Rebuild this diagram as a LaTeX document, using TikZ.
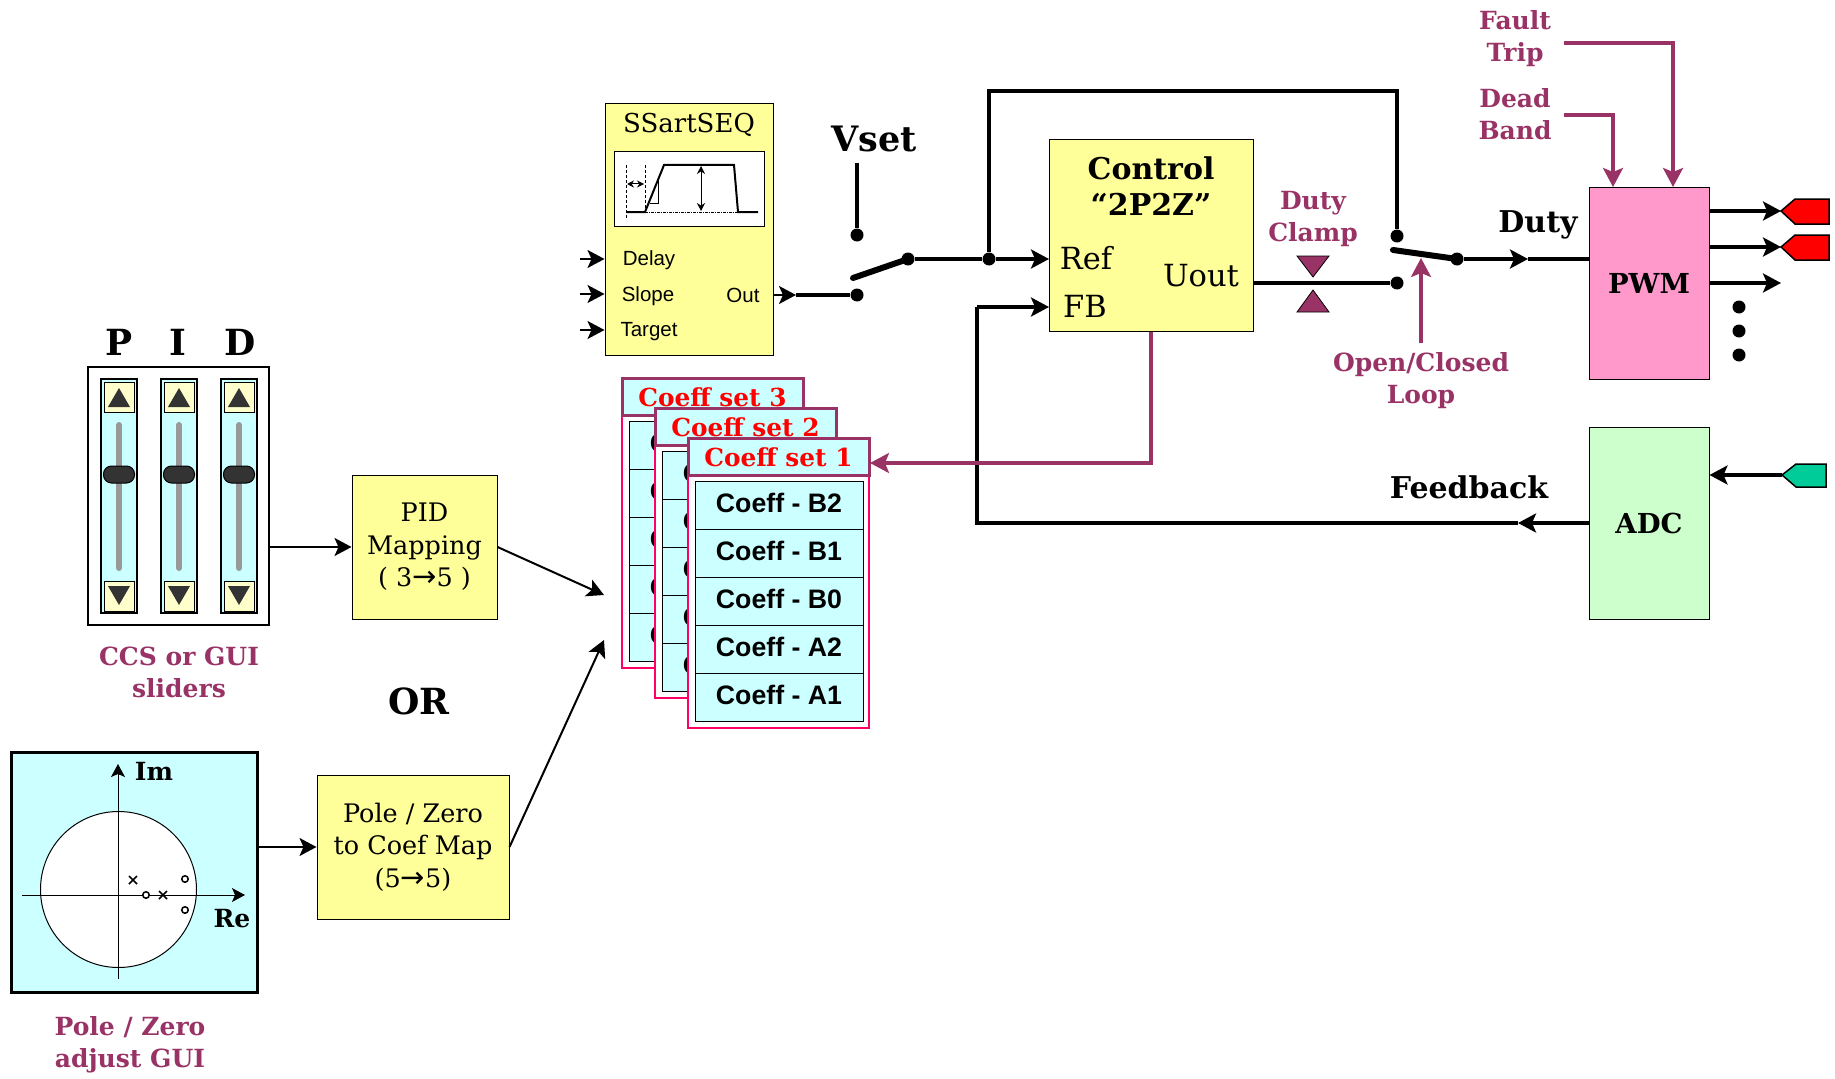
\documentclass[tikz,border=0pt]{standalone}
\usepackage{fontspec}
\setmainfont{DejaVu Serif}
\newfontfamily\sansf{Liberation Sans}
\newfontfamily\arrowf{DejaVu Sans}
\usepackage{xcolor}
\usetikzlibrary{arrows.meta,shapes.misc}
\definecolor{plum}{HTML}{993366}
\definecolor{butter}{HTML}{FFFF99}
\definecolor{cream}{HTML}{FFFFCC}
\definecolor{ice}{HTML}{CCFFFF}
\definecolor{rose}{HTML}{FF99CC}
\definecolor{mint}{HTML}{CCFFCC}
\definecolor{jade}{HTML}{00CC99}
\definecolor{hotpink}{HTML}{FF0066}
\definecolor{dark}{HTML}{333333}
\newcommand{\fsz}[2]{\fontsize{#1}{#2}\selectfont}
\newcommand{\maparrow}{{\arrowf\fsz{29}{32.5}→}}
\begin{document}
\begin{tikzpicture}[x=1pt,y=-1pt,
box/.style={draw=black,line width=1pt,fill=butter,align=center,inner sep=0pt},
map/.style={box,font=\fsz{25.5}{32.5}},
head/.style={font=\bfseries\fsz{30}{36},align=center,inner sep=0pt},
note/.style={font=\bfseries\fsz{25}{32},text=plum,align=center,inner sep=0pt},
pin/.style={font=\sansf\fsz{20.5}{24},inner sep=0pt},
port/.style={font=\fsz{30.5}{32},inner sep=0pt},
dot/.style={circle,fill=black,inner sep=0pt,minimum size=13pt},
arr/.style={-{Stealth[length=18pt,width=19pt,inset=4pt]},line width=3.2pt},
thin arr/.style={-{Stealth[length=17pt,width=18pt,inset=4pt]},line width=2pt},
link/.style={line width=3.2pt},
parr/.style={-{Stealth[length=19pt,width=20pt,inset=4pt]},line width=3.2pt,draw=plum},
blade/.style={line width=6pt,line cap=round},
tag/.style={draw=black,line width=1.5pt,line join=miter},
zeromark/.style={circle,draw=black,line width=1.5pt,fill=white,inner sep=0pt,minimum size=6.5pt},
polemark/.style={cross out,draw=black,line width=1.5pt,inner sep=0pt,minimum size=6.5pt}]
\useasboundingbox (0,0) rectangle (1835,1078);

% sequencer block
\node[box,minimum width=168pt,minimum height=252pt] (seq) at (689,229.5) {};
\node[font=\fsz{26}{30},inner sep=0pt] (seqname) at (689,125) {SSartSEQ};
\node[draw=black,line width=1pt,fill=white,minimum width=150pt,minimum height=74pt,inner sep=0pt] (scope) at (689,189) {};
\draw[line width=1pt,densely dashed] (626,165)--(626,219) (645,165)--(645,212);
\draw[line width=1pt,densely dashdotted] (645,212)--(738,212);
\draw[line width=1pt] (650,203)--(658,203)--(658,180);
\draw[line width=2pt] (626,212)--(645,212)--(664,165)--(734,165)--(738,212)--(758,212);
\draw[{Stealth[length=7pt,width=7pt]}-{Stealth[length=7pt,width=7pt]},line width=1pt] (627,184)--(644,184);
\draw[{Stealth[length=8pt,width=8pt]}-{Stealth[length=8pt,width=8pt]},line width=1pt] (701,166)--(701,211);
\node[pin] (delay) at (649,260) {Delay};
\node[pin] (slope) at (648,296) {Slope};
\node[pin] (target) at (649,332) {Target};
\node[pin] (out) at (743,295) {Out};
\coordinate (inA) at (580,259);\coordinate (inB) at (580,294);\coordinate (inC) at (580,330);
\draw[thin arr] (inA)--(inA-|seq.west);\draw[thin arr] (inB)--(inB-|seq.west);\draw[thin arr] (inC)--(inC-|seq.west);

% input switch
\node[head,font=\bfseries\fsz{35}{40}] (vset) at (874,139) {Vset};
\node[dot] (swtop) at (857,235) {};
\node[dot] (swlow) at (857,295) {};
\node[dot] (swout) at (908,259) {};
\node[dot] (junc) at (989,259) {};
\coordinate (vsetend) at (857,163);
\coordinate (seqout) at (773,295);
\coordinate (seqtip) at (796,295);
\draw[link] (vsetend)--(swtop);
\draw[thin arr] (seqout)--(seqtip);
\draw[link] (seqtip)--(swlow);
\draw[blade] (853,278)--(swout.center);
\draw[link] (swout)--(junc);

% control block
\node[box,minimum width=204pt,minimum height=192pt] (ctrl) at (1151,235.5) {};
\node[head] (ctrlname) at (1151,186) {Control\\``2P2Z''};
\node[port] (ref) at (1086,258) {Ref};
\node[port] (fb) at (1085,306) {FB};
\node[port] (uout) at (1201,276) {Uout};
\coordinate (refin) at (1049,259);
\coordinate (fbin) at (1049,307);
\draw[arr] (junc)--(refin);

% clamp and loop switch
\node[note] (clamp) at (1313,218.5) {Duty\\Clamp};
\draw[fill=plum,line width=.8pt] (1297,256)--(1329,256)--(1313,277)--cycle;
\draw[fill=plum,line width=.8pt] (1297,312)--(1329,312)--(1313,290)--cycle;
\node[dot] (looptop) at (1397,236) {};
\node[dot] (looplow) at (1397,283) {};
\node[dot] (loopout) at (1457,259) {};
\coordinate (uoutend) at (1253,283);
\coordinate (bypassA) at (989,91);
\coordinate (bypassB) at (1397,91);
\draw[link] (uoutend)--(looplow);
\draw[link] (junc)--(bypassA)--(bypassB)--(looptop);
\draw[blade] (1393,250)--(loopout.center);
\node[note] (openloop) at (1421,381) {Open/Closed\\Loop};
\coordinate (loopnote) at (1421,343);
\coordinate (loopnotetip) at (1421,258);
\draw[parr] (loopnote)--(loopnotetip);

% PWM block
\node[box,fill=rose,minimum width=120pt,minimum height=192pt,font=\bfseries\fsz{27.5}{30}] (pwm) at (1649,283.5) {PWM};
\node[head] (duty) at (1538,225) {Duty};
\coordinate (dutytip) at (1528,259);
\draw[arr] (loopout)--(dutytip);
\draw[link] (dutytip)--(dutytip-|pwm.west);
\node[note] (fault) at (1515,38.5) {Fault\\Trip};
\node[note] (dead) at (1515,114) {Dead\\Band};
\coordinate (faultend) at (1564,43);\coordinate (faultcrn) at (1673,43);
\coordinate (deadend) at (1564,115);\coordinate (deadcrn) at (1613,115);
\draw[parr] (faultend)--(faultcrn)--(faultcrn|-pwm.north);
\draw[parr] (deadend)--(deadcrn)--(deadcrn|-pwm.north);
\coordinate (gateA) at (1781,211);\coordinate (gateB) at (1781,247);\coordinate (gateC) at (1781,283);
\draw[arr] (gateA-|pwm.east)--(gateA);\draw[arr] (gateB-|pwm.east)--(gateB);\draw[arr] (gateC-|pwm.east)--(gateC);
\draw[tag,fill=red] (gateA)--++(14,-12)--++(34,0)--++(0,25)--++(-34,0)--cycle;
\draw[tag,fill=red] (gateB)--++(14,-12)--++(34,0)--++(0,25)--++(-34,0)--cycle;
\foreach \i/\gy in {1/307,2/331,3/355}
  \node[dot] (more\i) at (1739,\gy) {};

% ADC block
\node[box,fill=mint,minimum width=120pt,minimum height=192pt,font=\bfseries\fsz{27.5}{30}] (adc) at (1649,523) {ADC};
\node[head] (feedback) at (1469,487) {Feedback};
\coordinate (sense) at (1782,475);
\coordinate (fbtip) at (1518,523);
\coordinate (fbcrnA) at (977,523);
\coordinate (fbcrnB) at (977,307);
\draw[tag,fill=jade] (sense)--++(14,-11)--++(30,0)--++(0,23)--++(-30,0)--cycle;
\draw[arr] (sense)--(sense-|adc.east);
\draw[arr] (adc.west)--(fbtip);
\draw[link] (fbtip)--(fbcrnA)--(fbcrnB);
\draw[arr] (fbcrnB)--(fbin);

% coefficient sets
\foreach \s/\dx/\dy in {3/-66/-60,2/-33/-30,1/0/0}{
\begin{scope}[shift={(\dx,\dy)}]
\node[draw=hotpink,line width=1.5pt,fill=white,minimum width=181pt,minimum height=289pt,inner sep=0pt] (page\s) at (778.5,583.5) {};
\foreach \lab [count=\i] in {B2,B1,B0,A2,A1}
  \node[draw=black,line width=1pt,fill=ice,minimum width=168pt,minimum height=48pt,inner sep=0pt,text depth=4pt,font=\sansf\bfseries\fsz{26.7}{30}] (row\s\i) at (779,{505+48*(\i-1)}) {Coeff - \lab};
\node[draw=plum,line width=3pt,fill=ice,minimum width=181pt,minimum height=37pt,inner sep=0pt,text=red,font=\bfseries\fsz{24.8}{28}] (title\s) at (778.5,457) {Coeff set \s};
\end{scope}}
\coordinate (settip) at (870,463);
\coordinate (ctrlcrn) at (1151,463);
\draw[parr] (ctrlcrn|-ctrl.south)--(ctrlcrn)--(settip);

% PID sliders
\node[head,font=\bfseries\fsz{36}{40}] (pname) at (119,342) {P};
\node[head,font=\bfseries\fsz{36}{40}] (iname) at (178,342) {I};
\node[head,font=\bfseries\fsz{36}{40}] (dname) at (240,342) {D};
\node[draw=black,line width=1.5pt,fill=white,minimum width=181pt,minimum height=258pt,inner sep=0pt] (sliders) at (178.5,496) {};
\foreach \n/\sx in {p/119,i/179,d/239}{
\node[draw=black,line width=1.5pt,fill=ice,minimum width=36pt,minimum height=234pt,inner sep=0pt] (track\n) at (\sx,496) {};
\draw[line width=6pt,draw=gray!80,line cap=round] (\sx,425)--(\sx,568);
\node[draw=black,line width=1pt,fill=dark,rounded corners=8pt,minimum width=31pt,minimum height=17pt,inner sep=0pt] (knob\n) at (\sx,474.5) {};
\node[draw=black,line width=1pt,fill=cream,minimum size=30pt,inner sep=0pt] (up\n) at (\sx,397) {};
\node[draw=black,line width=1pt,fill=cream,minimum size=30pt,inner sep=0pt] (down\n) at (\sx,596) {};
\fill[dark] (\sx-11,407)--(\sx+11,407)--(\sx,388)--cycle;
\fill[dark] (\sx-11,586)--(\sx+11,586)--(\sx,605)--cycle;
}
\node[note] (slidernote) at (179,672) {CCS or GUI\\sliders};

% mapping boxes
\node[map,minimum width=145pt,minimum height=144pt] (pidmap) at (424.5,547) {PID\\Mapping\\( 3\maparrow5 )};
\node[head,font=\bfseries\fsz{36}{40}] (orword) at (419,701) {OR};
\node[map,minimum width=192pt,minimum height=144pt] (pzmap) at (413,847) {Pole / Zero\\to Coef Map\\(5\maparrow5)};
\coordinate (pidjoin) at (604,595);
\coordinate (pzjoin) at (604,640);
\draw[thin arr] (pidmap.east)--(pidjoin);
\draw[thin arr] (pzmap.east)--(pzjoin);
\draw[thin arr] (sliders.east|-pidmap.east)--(pidmap.west);

% pole zero plane
\node[draw=black,line width=3pt,fill=ice,minimum width=246pt,minimum height=240pt,inner sep=0pt] (plane) at (134,872) {};
\node[circle,draw=black,line width=1pt,fill=white,minimum size=156pt,inner sep=0pt] (unit) at (118.5,889.5) {};
\coordinate (imlow) at (118,979);\coordinate (imtip) at (118,764);
\coordinate (relow) at (22,895);\coordinate (retip) at (245,895);
\draw[line width=1pt,-{Stealth[length=13pt,width=14pt,inset=3pt]}] (imlow)--(imtip);
\draw[line width=1pt,-{Stealth[length=13pt,width=14pt,inset=3pt]}] (relow)--(retip);
\node[font=\bfseries\fsz{25}{28},inner sep=0pt] (imname) at (154,771) {Im};
\node[font=\bfseries\fsz{25}{28},inner sep=0pt] (rename) at (232,919) {Re};
\node[zeromark] (zeroA) at (146,895) {};
\node[zeromark] (zeroB) at (185,879) {};
\node[zeromark] (zeroC) at (185,910) {};
\node[polemark] (poleA) at (133,880) {};
\node[polemark] (poleB) at (163,895) {};
\node[note] (planenote) at (130,1045) {Pole / Zero\\adjust GUI};
\draw[thin arr] (plane.east|-pzmap.west)--(pzmap.west);
\end{tikzpicture}
\end{document}
